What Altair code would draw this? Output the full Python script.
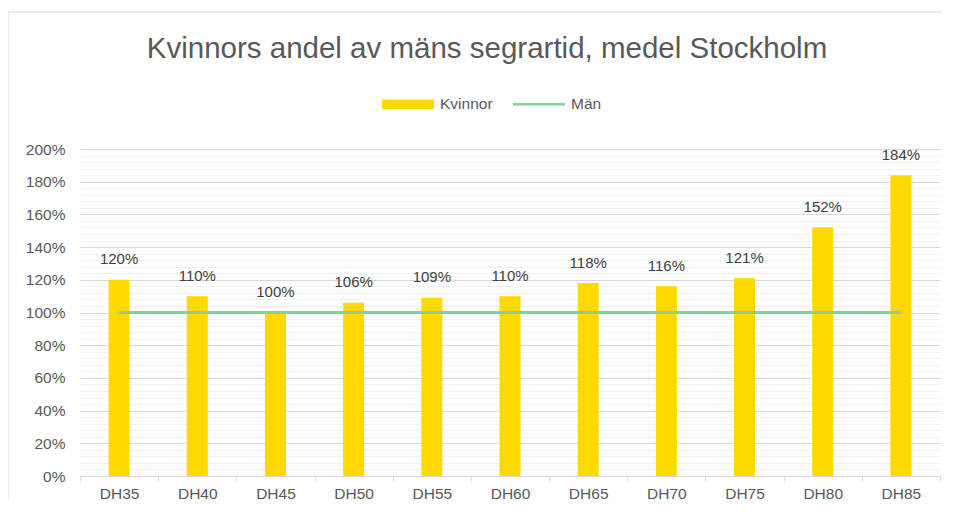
import altair as alt
import pandas as pd

categories = ["DH35", "DH40", "DH45", "DH50", "DH55", "DH60", "DH65", "DH70", "DH75", "DH80", "DH85"]
kvinnor = [1.20, 1.10, 1.00, 1.06, 1.09, 1.10, 1.18, 1.16, 1.21, 1.52, 1.84]
man = [1.00, 1.00, 1.00, 1.00, 1.00, 1.00, 1.00, 1.00, 1.00, 1.00, 1.00]
series = ["Kvinnor", "Män"]
y_major = [0, 0.2, 0.4, 0.6, 0.8, 1.0, 1.2, 1.4, 1.6, 1.8, 2.0]
y_minor = [round(i * 0.04, 2) for i in range(51)]

rows = []
for c, k, m in zip(categories, kvinnor, man):
    rows.append({"klass": c, "serie": "Kvinnor", "andel": k})
    rows.append({"klass": c, "serie": "Män", "andel": m})
df = pd.DataFrame(rows)

YELLOW = "#FFD900"
GREEN = "#82D39A"
FONT = "Liberation Sans"
W, H = 860, 327

x_enc = alt.X(
    "klass:N",
    sort=categories,
    scale=alt.Scale(domain=categories, paddingInner=0, paddingOuter=0),
    axis=alt.Axis(
        title=None, labelAngle=0, tickBand="extent", domainColor="#D9D9D9",
        tickColor="#D9D9D9", tickSize=5, labelPadding=5, labelColor="#595959",
        labelFontSize=15.5, labelFont=FONT, grid=False,
    ),
)
yscale = alt.Scale(domain=[0, 2], nice=False, zero=True)
minor_axis = alt.Axis(
    title=None, orient="left", values=y_minor, labels=False, ticks=False,
    domain=False, grid=True, gridColor="#F0F0F0", gridWidth=1,
)
major_axis = alt.Axis(
    title=None, orient="left", values=y_major, format=".0%", ticks=False,
    tickSize=0, domain=False, grid=True, gridColor="#D9D9D9", gridWidth=1,
    labelPadding=15, labelColor="#595959", labelFontSize=15.5, labelFont=FONT,
)

color = alt.Color(
    "serie:N",
    scale=alt.Scale(domain=series, range=[YELLOW, GREEN]),
    legend=alt.Legend(
        title=None, orient="none", legendX=302, legendY=-71,
        direction="horizontal", symbolSize=2704, labelOffset=6,
        columnPadding=20, labelFontSize=15.5, labelColor="#595959",
        labelFont=FONT,
        symbolType=alt.ExprRef(expr="datum.value === 'Män' ? 'M-1,-0.05H1V0.05H-1Z' : 'M-1,-0.18H1V0.18H-1Z'"),
        symbolFillColor=alt.ExprRef(expr="datum.value === 'Män' ? '" + GREEN + "' : '" + YELLOW + "'"),
        symbolStrokeWidth=0,
        symbolOpacity=1,
    ),
)

base = alt.Chart(df)

bars = base.transform_filter(alt.datum.serie == "Kvinnor").mark_bar(size=21).encode(
    x=x_enc,
    y=alt.Y("andel:Q", scale=yscale, axis=minor_axis),
    color=color,
)
line = base.transform_filter(alt.datum.serie == "Män").mark_line(strokeWidth=3).encode(
    x=x_enc,
    y=alt.Y("andel:Q", scale=yscale, axis=major_axis),
    color=color,
)
labels = base.transform_filter(alt.datum.serie == "Kvinnor").mark_text(
    dy=-15.5, baseline="alphabetic", fontSize=15, color="#404040", font=FONT
).encode(
    x=x_enc,
    y=alt.Y("andel:Q", scale=yscale, axis=None),
    text=alt.Text("andel:Q", format=".0%"),
)

frame_df = pd.DataFrame({"k": [0]})
left_line = alt.Chart(frame_df).mark_rule(color="#D9D9D9", strokeWidth=1).encode(
    x=alt.value(-72), x2=alt.value(-72), y=alt.value(-137), y2=alt.value(H + 30)
)
top_line = alt.Chart(frame_df).mark_rule(color="#D9D9D9", strokeWidth=1).encode(
    x=alt.value(-72), x2=alt.value(W + 10), y=alt.value(-137), y2=alt.value(-137)
)

chart = (
    alt.layer(bars, line, labels, left_line, top_line)
    .resolve_axis(y="independent")
    .properties(
        width=W,
        height=H,
        autosize=alt.AutoSizeParams(type="none"),
        padding={"left": 72, "top": 141, "right": 1, "bottom": 24},
        title=alt.TitleParams(
            text="Kvinnors andel av mäns segrartid, medel Stockholm",
            fontSize=29.5, font=FONT, fontWeight="normal", color="#595959",
            anchor="middle", frame="group", dx=-23, offset=-76, baseline="alphabetic",
        ),
    )
    .configure(background="white")
    .configure_view(stroke=None, strokeWidth=0)
    .configure_axisX(grid=False)
    .configure_axisY(domain=False)
)

chart.save("out.html", embed_options={"renderer": "svg", "actions": False})
